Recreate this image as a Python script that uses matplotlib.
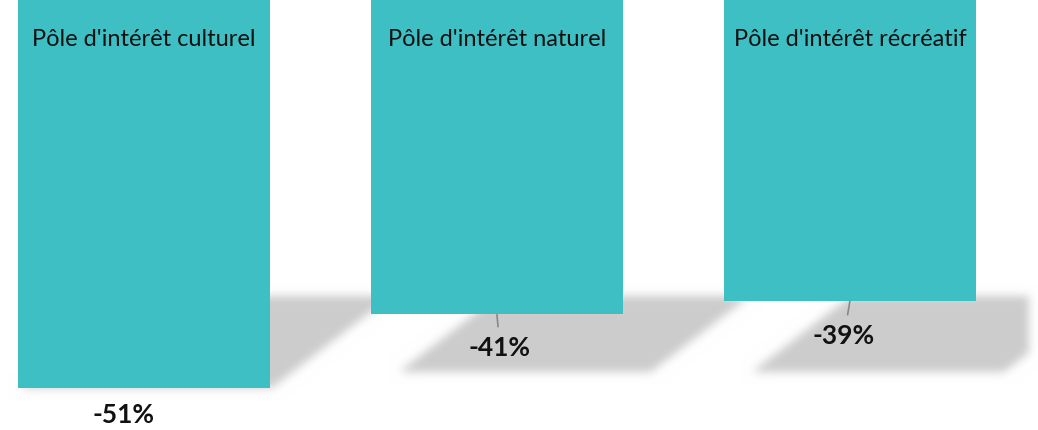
import numpy as np
import matplotlib
matplotlib.use("Agg")
import matplotlib.pyplot as plt
from matplotlib.path import Path

# data
categories = ["Pôle d'intérêt culturel", "Pôle d'intérêt naturel", "Pôle d'intérêt récréatif"]
values = [-50.7, -41.1, -39.4]

# label placement (pixels offset from the bar's bottom centre) and leader flag
label_dx = [-20, 3, -6]
label_dy = [-27, -34, -35]
leader = [False, True, True]

bar_color = "#3dbfc4"
W, H = 1038, 430

plt.rcParams['font.family'] = ['Lato', 'DejaVu Sans']

fig = plt.figure(figsize=(W / 100, H / 100), dpi=100)
fig.patch.set_facecolor("white")
ax = fig.add_axes([0, 0, 1, 1])
ax.patch.set_visible(False)

x = np.arange(len(categories))
width = 0.714
ax.set_xlim(-0.408, 2.533)
ax.set_ylim(-430 / 7.65, 0)
ax.axis("off")

bars = ax.bar(x, values, width=width, color=bar_color, zorder=2)

for xi, cat in zip(x, categories):
    ax.text(xi, -40 / 7.65, cat, ha="center", va="center", fontsize=17,
            color="#111111", zorder=3)

for xi, v, dx, dy, ld in zip(x, values, label_dx, label_dy, leader):
    ax.annotate(f"{round(v):d}%", xy=(xi, v), xytext=(dx, dy),
                textcoords="offset pixels", ha="center", va="center",
                fontsize=19, fontweight="bold", color="#111111", zorder=3,
                arrowprops=dict(arrowstyle="-", color="#888888", lw=1.2,
                                shrinkA=5, shrinkB=0) if ld else None)

# soft shadow behind each bar, built in pixel space from the bar geometry
fig.canvas.draw()
shadow_top = 296
floor = 372
skew = 1.3
bottom_shift = [2, 28, 28]

yy, xx = np.mgrid[0:H, 0:W]
pts = np.column_stack([xx.ravel() + 0.5, yy.ravel() + 0.5])
mask = np.zeros(H * W)
for b, d in zip(bars, bottom_shift):
    (x0, y0), (x1, y1) = ax.transData.transform([(b.get_x(), 0),
                                                 (b.get_x() + b.get_width(), b.get_height())])
    yb = max(H - y1, floor)
    top = d + skew * (yb - shadow_top)
    poly = Path([(x0 + d, yb), (x1 + d, yb), (x1 + top, shadow_top), (x0 + top, shadow_top)])
    mask = np.maximum(mask, poly.contains_points(pts).astype(float))
mask = mask.reshape(H, W)
mask[:, 1029:] = 0


def blur(a, sigma):
    r = int(3 * sigma)
    k = np.exp(-0.5 * (np.arange(-r, r + 1) / sigma) ** 2)
    k /= k.sum()
    a = np.apply_along_axis(lambda row: np.convolve(row, k, mode="same"), 1, a)
    a = np.apply_along_axis(lambda col: np.convolve(col, k, mode="same"), 0, a)
    return a


mask = blur(mask, 4.5)
img = np.ones((H, W, 3)) - 0.2 * mask[:, :, None]
fig.figimage(img, xo=0, yo=0, origin="upper", zorder=-1)

fig.savefig("out.png", dpi=100)
